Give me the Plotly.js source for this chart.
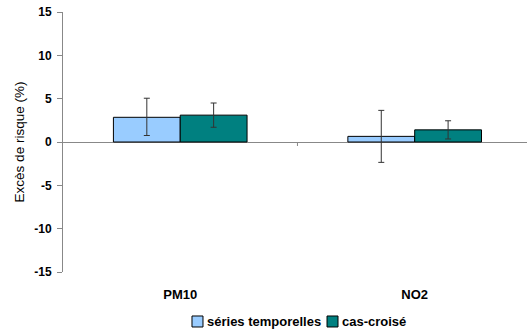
<!DOCTYPE html>
<html><head><meta charset="utf-8">
<script src="https://cdn.plot.ly/plotly-3.0.1.min.js"></script>
<style>html,body{margin:0;padding:0;background:#fff}</style>
</head><body>
<div id="chart" style="width:527px;height:332px"></div>
<script>
const categories = ["PM10", "NO2"];
const seriesNames = ["séries temporelles", "cas-croisé"];
const seriesColors = ["#99CCFF", "#008080"];
const seriesTemporelles = [2.85, 0.65];
const seriesTemporellesPlus = [2.2, 3.0];
const seriesTemporellesMinus = [2.1, 3.0];
const casCroise = [3.1, 1.4];
const casCroisePlus = [1.4, 1.05];
const casCroiseMinus = [1.4, 1.05];
const yTicks = [-15, -10, -5, 0, 5, 10, 15];
const yTickText = ["-15", "-10", "-5", "0", "5", "10", "15"];

const font = "Liberation Sans, Arial, sans-serif";
function err(plus, minus) {
  return {type: "data", symmetric: false, array: plus, arrayminus: minus,
          color: "#333", thickness: 1, width: 3};
}
const traces = [
  {type: "bar", name: seriesNames[0], x: categories, y: seriesTemporelles,
   marker: {color: seriesColors[0], line: {color: "#000", width: 1}},
   error_y: err(seriesTemporellesPlus, seriesTemporellesMinus)},
  {type: "bar", name: seriesNames[1], x: categories, y: casCroise,
   marker: {color: seriesColors[1], line: {color: "#000", width: 1}},
   error_y: err(casCroisePlus, casCroiseMinus)}
];
// custom legend (key squares + labels) placed in paper coordinates
const legendBoxes = [[0.278, 0.3017], [0.569, 0.5927]];
const legendTextX = [0.306, 0.597];
const shapes = [{type: "line", xref: "x", yref: "y", x0: 0.5, x1: 0.5,
            ysizemode: "pixel", yanchor: 0, y0: 0, y1: -4,
            line: {color: "#888", width: 1}}];
const annotations = [];
seriesNames.forEach((n, i) => {
  shapes.push({type: "rect", xref: "paper", yref: "paper",
    x0: legendBoxes[i][0], x1: legendBoxes[i][1], y0: -0.1692, y1: -0.2115,
    fillcolor: seriesColors[i], line: {color: "#000", width: 1}});
  annotations.push({xref: "paper", yref: "paper", x: legendTextX[i], y: -0.1923,
    xanchor: "left", yanchor: "middle", showarrow: false, text: n,
    font: {family: font, size: 13, color: "#000", weight: "bold"}});
});
const layout = {
  width: 527, height: 332,
  margin: {l: 63, r: 0, t: 12, b: 60},
  paper_bgcolor: "#fff", plot_bgcolor: "#fff",
  barmode: "group", bargap: 0.43, bargroupgap: 0,
  showlegend: false,
  xaxis: {type: "category", range: [-0.5, 1.479], showgrid: false, zeroline: false,
          showline: false, ticks: "", ticklabelstandoff: 13,
          tickfont: {family: font, size: 13, color: "#000", weight: "bold"}},
  yaxis: {range: [-15, 15], tickvals: yTicks, ticktext: yTickText, showgrid: false,
          zeroline: true, zerolinecolor: "#888", zerolinewidth: 1,
          showline: true, linecolor: "#888", linewidth: 1,
          ticks: "outside", ticklen: 5, tickcolor: "#888", ticklabelstandoff: 3,
          tickfont: {family: font, size: 12, color: "#000", weight: "bold"},
          title: {text: "Excès de risque (%)", standoff: 6,
                  font: {family: font, size: 13.5, color: "#000"}}},
  shapes: shapes,
  annotations: annotations
};
Plotly.newPlot("chart", traces, layout, {displayModeBar: false, staticPlot: true});
</script>
</body></html>
